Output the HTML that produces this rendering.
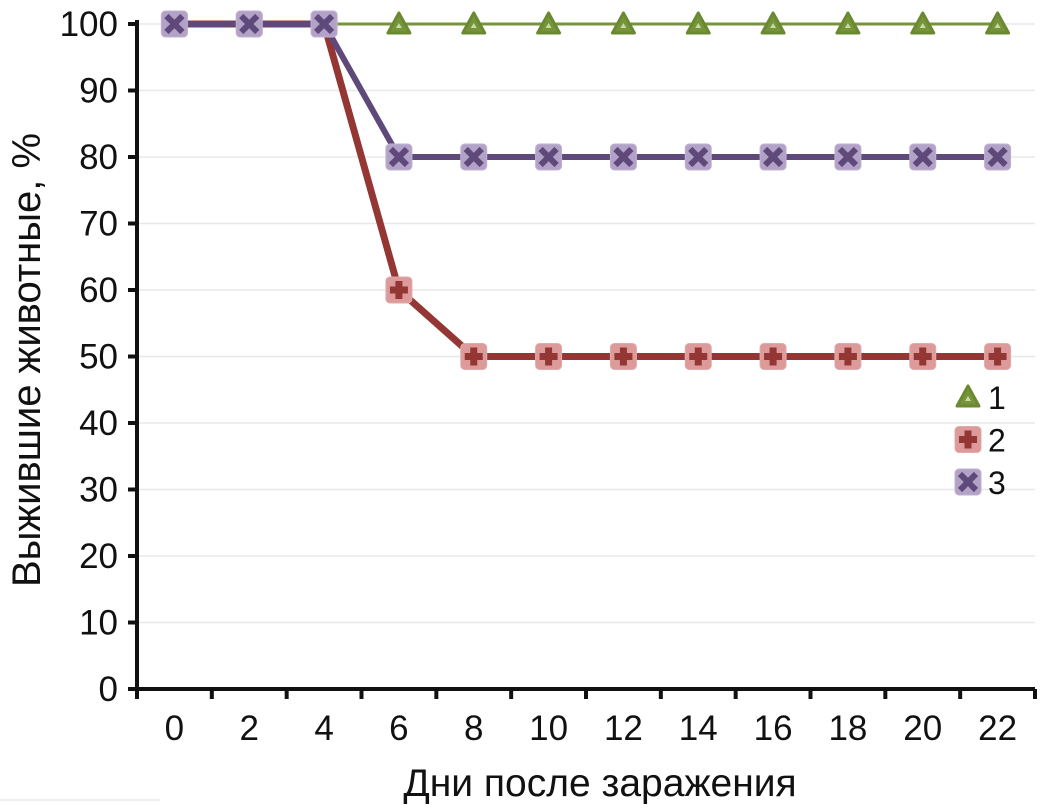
<!DOCTYPE html>
<html><head><meta charset="utf-8"><style>
body{margin:0;background:#fff;}
svg{display:block;font-family:"Liberation Sans",sans-serif;}
</style></head><body>
<svg id="c" width="1041" height="810"></svg>
<script>
const categories=[0,2,4,6,8,10,12,14,16,18,20,22];
const series1=[100,100,100,100,100,100,100,100,100,100,100,100];
const series2=[100,100,100,60,50,50,50,50,50,50,50,50];
const series3=[100,100,100,80,80,80,80,80,80,80,80,80];
const yTicks=[0,10,20,30,40,50,60,70,80,90,100];
const seriesNames=["1","2","3"];
const NS="http://www.w3.org/2000/svg";
const svg=document.getElementById('c');
const x0=137,x1=1035,y0=689,y1=24;
const bw=(x1-x0)/categories.length;
const X=i=>x0+bw*(i+0.5);
const Y=v=>y0-(v/100)*(y0-y1);
function el(t,a,p){const e=document.createElementNS(NS,t);for(const k in a)e.setAttribute(k,a[k]);(p||svg).appendChild(e);return e;}
yTicks.forEach(v=>{
 if(v>0){const g=el('line',{x1:x0,x2:x1,y1:Y(v),y2:Y(v),stroke:'#e8e8e8','stroke-width':1.5});
 
 }
 const tk=el('line',{x1:x0-9,x2:x0,y1:Y(v),y2:Y(v),stroke:'#111','stroke-width':4});
 
 
 const t=el('text',{x:118,y:Y(v)+12,'text-anchor':'end','font-size':35,fill:'#111'});t.textContent=v;
 
 
});
for(let i=0;i<=categories.length;i++){
 const tk=el('line',{x1:x0+bw*i,x2:x0+bw*i,y1:y0,y2:y0+10,stroke:'#111','stroke-width':4});
 
 
}
categories.forEach((c,i)=>{
 const t=el('text',{x:X(i),y:740,'text-anchor':'middle','font-size':35,fill:'#111'});t.textContent=c;
 
 
});
const ax=el('line',{x1:x0,x2:x0,y1:y1-4,y2:y0+2,stroke:'#111','stroke-width':4});


const axx=el('line',{x1:x0-2,x2:x1,y1:y0,y2:y0,stroke:'#111','stroke-width':4});


const xt=el('text',{x:600,y:796,'text-anchor':'middle','font-size':39,fill:'#111'});xt.textContent='Дни после заражения';


const yt=el('text',{x:0,y:0,'text-anchor':'middle','font-size':40,fill:'#111',transform:'translate(40,360) rotate(-90)'});yt.textContent='Выжившие животные, %';


const bl=el('line',{x1:0,x2:160,y1:800,y2:800,stroke:'#ddd','stroke-width':1});


function marker(kind,cx,cy,g){
 if(kind===0){el('path',{d:`M${cx} ${cy-11} L${cx+11} ${cy+9} L${cx-11} ${cy+9} Z`,fill:'#77933c',stroke:'#6a8a32','stroke-width':3,'stroke-linejoin':'round'},g);
  el('path',{d:`M${cx} ${cy-1} L${cx+3} ${cy+4} L${cx-3} ${cy+4} Z`,fill:'#c5dba0'},g);}
 else if(kind===1){el('rect',{x:cx-13,y:cy-13,width:26,height:26,rx:4,fill:'#dc9a9a',stroke:'#e2aaaa','stroke-width':1},g);
  el('path',{d:`M${cx-3.5} ${cy-9}h7v5.5h5.5v7h-5.5v5.5h-7v-5.5h-5.5v-7h5.5z`,fill:'#943634'},g);}
 else{el('rect',{x:cx-13,y:cy-13,width:26,height:26,rx:4,fill:'#b3a2c7',stroke:'#c0b2d2','stroke-width':1},g);
  el('path',{d:`M${cx-8} ${cy-8}L${cx+8} ${cy+8}M${cx+8} ${cy-8}L${cx-8} ${cy+8}`,stroke:'#5f497a','stroke-width':6},g);}
}
const all=[series1,series2,series3],cols=['#77933c','#943634','#5f497a'],widths=[3,7,6];
all.forEach((s,k)=>{
 const g=el('g',{});
 
 
 el('polyline',{points:s.map((v,i)=>X(i)+','+Y(v)).join(' '),fill:'none',stroke:cols[k],'stroke-width':widths[k],'stroke-linejoin':'round'},g);
 s.forEach((v,i)=>marker(k,X(i),Y(v),g));
});
seriesNames.forEach((n,k)=>{
 const g=el('g',{});
 
 
 const cy=397+k*42.5;
 marker(k,968,cy,g);
 const t=el('text',{x:988,y:cy+12,'font-size':32,fill:'#111'},g);t.textContent=n;
});
</script>
</body></html>
